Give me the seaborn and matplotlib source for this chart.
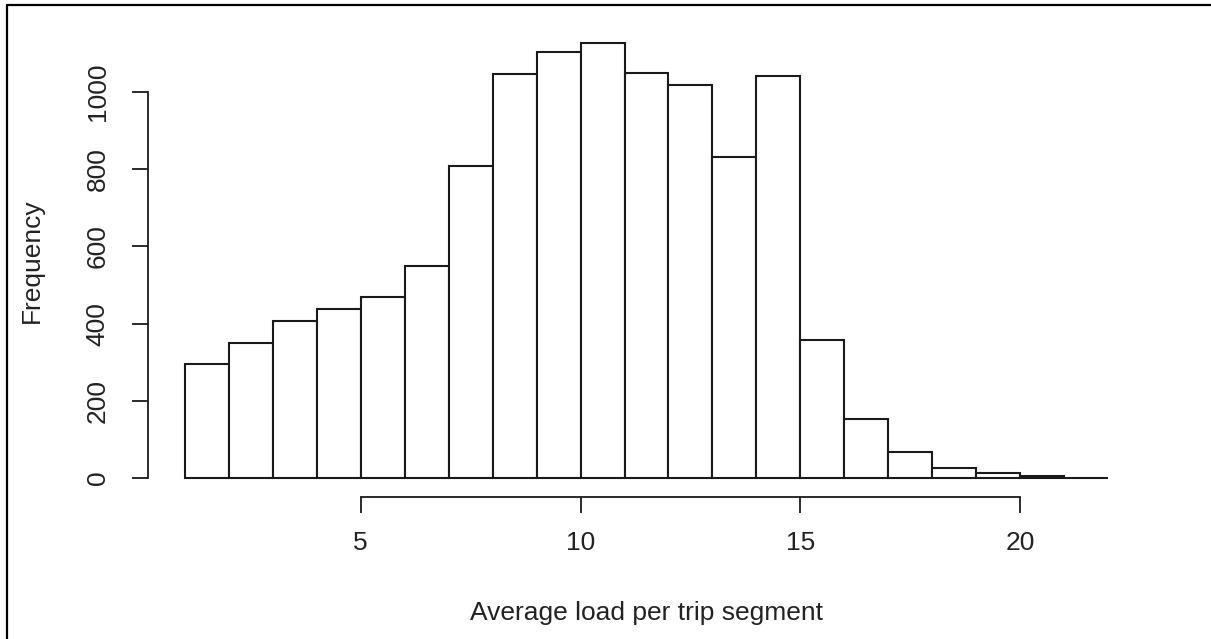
import matplotlib
matplotlib.use("Agg")
import matplotlib.pyplot as plt
from matplotlib.lines import Line2D
import numpy as np
import seaborn as sns

# Histogram of average load per trip segment (unit-width bins from 1 to 22)
bin_edges = list(range(1, 23))
counts = [295, 349, 406, 437, 468, 549, 808, 1047, 1103, 1126, 1049,
          1018, 831, 1041, 357, 152, 67, 27, 14, 4, 1]
x_ticks = [5, 10, 15, 20]
y_ticks = [0, 200, 400, 600, 800, 1000]
x_label = "Average load per trip segment"
y_label = "Frequency"

sns.set_style("white")
plt.rcParams["font.family"] = ["Liberation Sans", "DejaVu Sans"]

W, H = 1211, 639
fig = plt.figure(figsize=(W / 100, H / 100), dpi=100)
fig.patch.set_facecolor("white")

ax_left, ax_right, ax_top, ax_bottom = 148, 1145, 26, 495.4
ax = fig.add_axes([ax_left / W, 1 - ax_bottom / H,
                   (ax_right - ax_left) / W, (ax_bottom - ax_top) / H])

centers = [(a + b) / 2 for a, b in zip(bin_edges[:-1], bin_edges[1:])]
sns.histplot(x=centers, weights=counts, bins=bin_edges, ax=ax,
             color="white", edgecolor="#1a1a1a", linewidth=1.5, alpha=1)

# R-style axis ranges: 4% padding beyond the data range
x0, x1 = bin_edges[0], bin_edges[-1]
pad_x = 0.04 * (x1 - x0)
ax.set_xlim(x0 - pad_x, x1 + pad_x)
ymax = max(counts)
ax.set_ylim(-0.04 * ymax, ymax * 1.04)

for side in ["top", "right"]:
    ax.spines[side].set_visible(False)
for side in ["bottom", "left"]:
    ax.spines[side].set_color("#1a1a1a")
    ax.spines[side].set_linewidth(1.3)
ax.spines["bottom"].set_bounds(x_ticks[0], x_ticks[-1])
ax.spines["bottom"].set_position(("outward", 1.0))
ax.spines["left"].set_bounds(y_ticks[0], y_ticks[-1])

ax.set_xticks(x_ticks)
ax.set_xticklabels([str(v) for v in x_ticks])
ax.set_yticks(y_ticks)
ax.set_yticklabels([str(v) for v in y_ticks], rotation=90, va="center")

ax.tick_params(axis="x", direction="out", length=11.5, width=1.3,
               color="#1a1a1a", labelsize=19, labelcolor="#222222", pad=13,
               bottom=True)
ax.tick_params(axis="y", direction="out", length=11.5, width=1.3,
               color="#1a1a1a", labelsize=19, labelcolor="#222222", pad=16,
               left=True)

ax.set_xlabel(x_label, fontsize=19, color="#222222")
ax.set_ylabel(y_label, fontsize=19, color="#222222")
ax.xaxis.set_label_coords(0.5, (ax_bottom - 601) / (ax_bottom - ax_top))
ax.yaxis.set_label_coords((44 - ax_left) / (ax_right - ax_left), 0.5)
ax.grid(False)

# frame lines along the top and left edges of the image
fig.add_artist(Line2D([7 / W, 1.0], [1 - 5 / H, 1 - 5 / H],
                      transform=fig.transFigure, color="black", linewidth=1.6))
fig.add_artist(Line2D([7 / W, 7 / W], [0.0, 1 - 5 / H],
                      transform=fig.transFigure, color="black", linewidth=1.6))

fig.savefig("out.png", dpi=100, facecolor="white")
